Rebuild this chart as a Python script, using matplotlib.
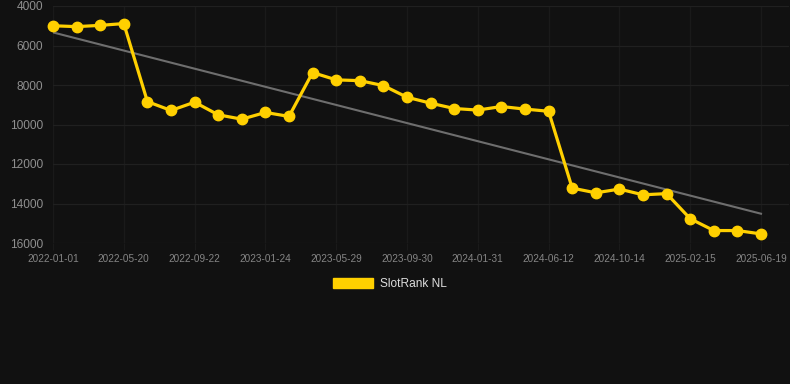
import numpy as np
from matplotlib import pyplot as plt
from matplotlib.patches import Patch

# rank values, one point per period (equally spaced)
ranks = [5000, 5045, 4980, 4890, 8840, 9290, 8870, 9510, 9730, 9390, 9590,
         7370, 7740, 7780, 8030, 8620, 8920, 9190, 9270, 9090, 9220, 9330,
         13220, 13460, 13270, 13560, 13500, 14770, 15370, 15370, 15540]
# every third point gets a label
tick_labels = ['2022-01-01', '2022-05-20', '2022-09-22', '2023-01-24',
               '2023-05-29', '2023-09-30', '2024-01-31', '2024-06-12',
               '2024-10-14', '2025-02-15', '2025-06-19']
y_ticks = [4000, 6000, 8000, 10000, 12000, 14000, 16000]
series_name = 'SlotRank NL'

BG = '#111111'
GOLD = '#ffd000'
GRID = '#202020'
TXT = '#8f8f8f'

plt.rcParams['font.family'] = ['Liberation Sans', 'DejaVu Sans']

W, H = 790, 384
fig = plt.figure(figsize=(W / 100, H / 100), dpi=100, facecolor=BG)
ax = fig.add_axes([53 / W, 1 - 243 / H, (789 - 53) / W, (243 - 6) / H])
ax.set_facecolor(BG)

x = np.arange(len(ranks))
y = np.array(ranks)

# linear trend
k, b = np.polyfit(x, y, 1)
ax.plot(x, k * x + b, color='#6e6e6e', lw=1.5, zorder=2)

ax.plot(x, y, color=GOLD, lw=2.3, marker='o', markersize=7.5,
        markerfacecolor=GOLD, markeredgecolor=GOLD, zorder=3, clip_on=False)

spacing = 23.6
ax.set_xlim(0, (789 - 53) / spacing)
ax.set_ylim(16000, 4000)

ax.set_yticks(y_ticks)
ax.set_yticklabels([str(v) for v in y_ticks])
ax.set_xticks(x[::3])
ax.set_xticklabels(tick_labels)

ax.grid(True, axis='y', color=GRID, lw=0.9)
ax.grid(True, axis='x', color='#1a1a1a', lw=0.9)
ax.set_axisbelow(True)
for s in ax.spines.values():
    s.set_visible(False)

ax.tick_params(axis='y', length=0, pad=7, labelsize=8.6, labelcolor=TXT)
ax.tick_params(axis='x', length=5, color='#1a1a1a', pad=3, labelsize=7.2,
               labelcolor='#858585')

handle = Patch(facecolor=GOLD, edgecolor=GOLD)
fig.legend([handle], [series_name], loc='center',
           bbox_to_anchor=(390 / W, 1 - 284 / H), frameon=False,
           fontsize=8.6, labelcolor='#dddddd', handlelength=3.33,
           handleheight=1.0, handletextpad=0.6)

fig.savefig('out.png', dpi=100, facecolor=BG)
